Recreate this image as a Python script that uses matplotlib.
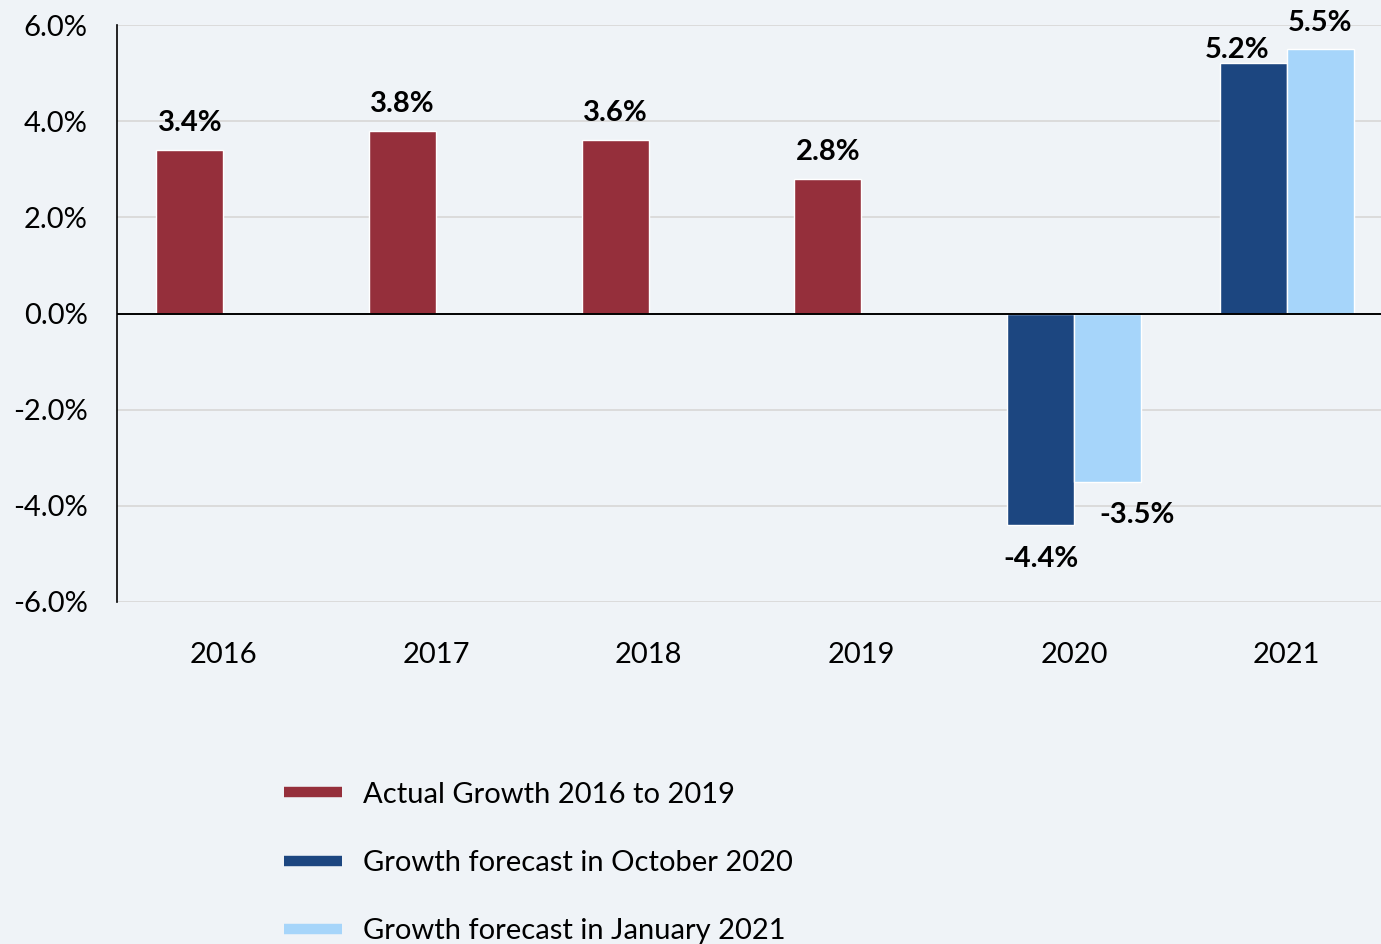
import matplotlib

matplotlib.use("Agg")
import matplotlib.pyplot as plt
from matplotlib.lines import Line2D
import numpy as np

# data
years = ["2016", "2017", "2018", "2019", "2020", "2021"]
actual = [3.4, 3.8, 3.6, 2.8]
forecast_oct = [-4.4, 5.2]
forecast_jan = [-3.5, 5.5]
yticks = [6, 4, 2, 0, -2, -4, -6]
legend_labels = [
    "Actual Growth 2016 to 2019",
    "Growth forecast in October 2020",
    "Growth forecast in January 2021",
]

red = "#952f3b"
dark_blue = "#1c4680"
light_blue = "#a6d5fa"
bg = "#eff3f7"

plt.rcParams["font.family"] = ["Lato", "DejaVu Sans"]

fig = plt.figure(figsize=(13.81, 9.44), dpi=100, facecolor=bg)
ax = fig.add_axes([0.0847, 0.3623, 0.924, 0.6112], facecolor=bg)

w = 0.315
x = np.arange(len(years))
x_act = x[:4]
x_fc = x[4:]

b1 = ax.bar(x_act - w / 2, actual, w, color=red, edgecolor="white", linewidth=1, zorder=3)
b2 = ax.bar(x_fc - w / 2, forecast_oct, w, color=dark_blue, edgecolor="white", linewidth=1, zorder=3)
b3 = ax.bar(x_fc + w / 2, forecast_jan, w, color=light_blue, edgecolor="white", linewidth=1, zorder=3)


def label_bars(bars, values, offsets):
    # offsets are (dx, dy) in points, nudged like the hand-placed labels in the original
    for bar, v, (dx, dy) in zip(bars, values, offsets):
        cx = bar.get_x() + bar.get_width() / 2
        ax.annotate(
            "{:.1f}%".format(v),
            (cx, v),
            xytext=(dx, dy),
            textcoords="offset points",
            ha="center",
            va="center",
            fontsize=21,
            fontweight="bold",
            color="black",
        )


label_bars(b1, actual, [(0, 19.5)] * 4)
label_bars(b2, forecast_oct, [(0, -24.5), (-11.5, 9.5)])
label_bars(b3, forecast_jan, [(21, -24), (0, 18.7)])

ax.set_xlim(-0.5, 5.5)
ax.set_ylim(-6, 6)
ax.set_yticks(yticks)
ax.set_yticklabels(["{:.1f}%".format(t) for t in yticks])
ax.set_xticks(x)
ax.set_xticklabels(years)
ax.tick_params(axis="y", length=0, pad=21, labelsize=21)
ax.tick_params(axis="x", length=0, pad=28.5, labelsize=21)

for t in yticks:
    if t != 0:
        ax.axhline(t, color="#d9d9d9", lw=1.3, zorder=1)
ax.axhline(0, color="black", lw=1.4, zorder=4)

for side in ["top", "right", "bottom"]:
    ax.spines[side].set_visible(False)
ax.spines["left"].set_color("black")
ax.spines["left"].set_linewidth(1.2)

handles = [
    Line2D([0], [0], color=red, lw=7.5, solid_capstyle="butt"),
    Line2D([0], [0], color=dark_blue, lw=7.5, solid_capstyle="butt"),
    Line2D([0], [0], color=light_blue, lw=7.5, solid_capstyle="butt"),
]
fig.legend(
    handles,
    legend_labels,
    loc="upper left",
    bbox_to_anchor=(0.2055, 0.172),
    bbox_transform=fig.transFigure,
    frameon=False,
    fontsize=21,
    handlelength=2.0,
    handletextpad=0.7,
    labelspacing=1.45,
    borderpad=0,
    borderaxespad=0,
)

fig.savefig("out.png", dpi=100, facecolor=bg)
plt.close("all")
